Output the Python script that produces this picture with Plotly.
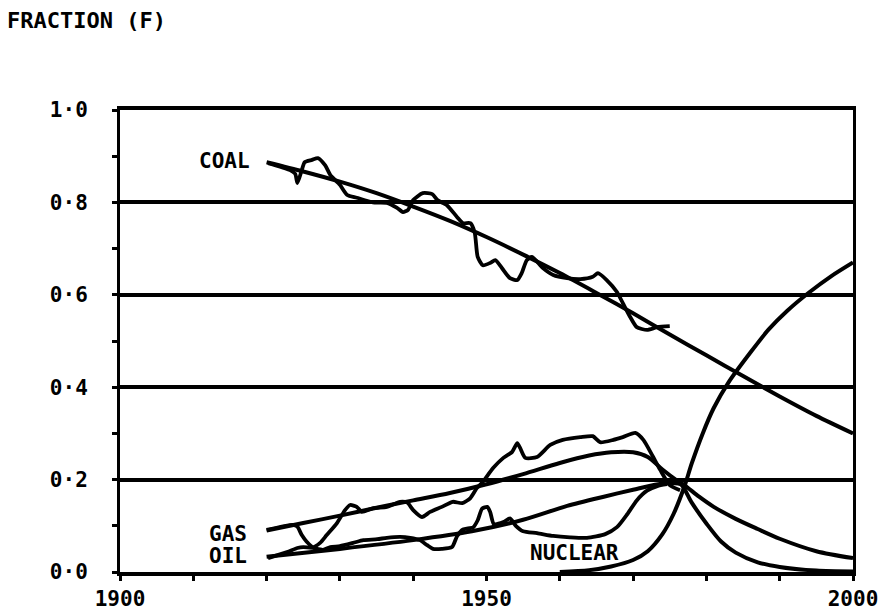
import plotly.graph_objects as go

# ---- fitted substitution curves (fraction of primary energy) ----
coal_fit_years = [1920, 1925, 1930, 1935, 1940, 1945, 1950, 1955, 1960, 1965,
                  1970, 1975, 1980, 1985, 1990, 1995, 2000]
coal_fit = [0.887, 0.867, 0.845, 0.820, 0.791, 0.760, 0.725, 0.687, 0.647, 0.604,
            0.560, 0.514, 0.469, 0.424, 0.380, 0.338, 0.300]

gas_fit_years = [1920, 1925, 1930, 1935, 1940, 1945, 1950, 1955, 1960, 1964, 1967,
                 1970, 1972, 1974, 1976, 1977, 1979, 1981, 1984, 1987, 1990, 1995, 2000]
gas_fit = [0.090, 0.106, 0.122, 0.139, 0.155, 0.171, 0.190, 0.212, 0.236, 0.252, 0.259,
           0.259, 0.249, 0.222, 0.198, 0.188, 0.163, 0.141, 0.115, 0.093, 0.072, 0.045, 0.030]

oil_fit_years = [1920, 1930, 1940, 1948, 1955, 1961, 1966, 1970, 1973, 1975, 1976.5,
                 1978, 1980, 1982, 1984, 1987, 1990, 1995, 2000]
oil_fit = [0.033, 0.050, 0.069, 0.088, 0.113, 0.143, 0.163, 0.178, 0.189, 0.192, 0.190,
           0.150, 0.105, 0.066, 0.042, 0.021, 0.011, 0.003, 0.001]

nuclear_years = [1960, 1964, 1967, 1970, 1972, 1974, 1975.5, 1977, 1978, 1979.5, 1981,
                 1983, 1986, 1988.5, 1991, 1994, 1997, 2000]
nuclear_fit = [0.000, 0.004, 0.012, 0.026, 0.045, 0.082, 0.125, 0.185, 0.235, 0.300, 0.355,
               0.410, 0.475, 0.525, 0.565, 0.605, 0.640, 0.670]

# ---- historical data ----
coal_years = [1920.2, 1923.2, 1923.9, 1924.2, 1924.8, 1925.2, 1926.2, 1927.0, 1928.0, 1928.7,
              1930.0, 1931.0, 1932.3, 1934.5, 1936.4, 1937.8, 1938.6, 1939.3, 1940.0, 1941.3,
              1942.6, 1943.3, 1944.6, 1946.0, 1946.8, 1947.8, 1948.4, 1948.8, 1949.5, 1950.5,
              1951.2, 1952.1, 1953.2, 1954.2, 1954.8, 1955.5, 1956.2, 1957.7, 1959.1, 1961.0,
              1962.8, 1964.5, 1965.2, 1966.4, 1967.8, 1968.6, 1969.6, 1970.5, 1971.9, 1973.3,
              1975.0]
coal_data = [0.885, 0.870, 0.862, 0.842, 0.870, 0.887, 0.892, 0.896, 0.880, 0.859,
             0.838, 0.816, 0.810, 0.800, 0.799, 0.788, 0.779, 0.784, 0.805, 0.820,
             0.818, 0.805, 0.794, 0.768, 0.755, 0.755, 0.734, 0.682, 0.664, 0.669,
             0.675, 0.658, 0.636, 0.632, 0.647, 0.675, 0.682, 0.658, 0.643, 0.636,
             0.634, 0.639, 0.647, 0.632, 0.606, 0.582, 0.552, 0.530, 0.524, 0.530,
             0.532]

gas_years = [1920.0, 1923.6, 1924.2, 1924.8, 1925.5, 1926.3, 1927.3, 1928.2, 1929.6, 1930.7,
             1931.4, 1932.3, 1933.0, 1934.5, 1936.4, 1938.2, 1939.2, 1940.0, 1941.2, 1942.3,
             1943.9, 1945.4, 1946.7, 1947.8, 1948.7, 1949.5, 1950.9, 1952.3, 1953.5, 1954.2,
             1954.6, 1955.3, 1956.9, 1958.7, 1960.4, 1962.8, 1964.5, 1965.5, 1967.3, 1968.6,
             1970.3, 1971.4, 1972.6, 1973.7, 1975.0, 1976.4]
gas_data = [0.091, 0.102, 0.098, 0.080, 0.065, 0.054, 0.063, 0.080, 0.106, 0.134,
            0.145, 0.141, 0.130, 0.138, 0.141, 0.152, 0.150, 0.134, 0.119, 0.130,
            0.141, 0.152, 0.149, 0.160, 0.182, 0.195, 0.225, 0.247, 0.260, 0.279,
            0.268, 0.247, 0.249, 0.275, 0.286, 0.292, 0.294, 0.281, 0.286, 0.292,
            0.301, 0.286, 0.253, 0.221, 0.188, 0.177]

oil_years = [1920.2, 1922.8, 1924.2, 1925.0, 1926.3, 1927.7, 1928.7, 1930.0, 1931.8, 1933.2,
             1935.1, 1936.4, 1938.2, 1939.6, 1940.9, 1941.9, 1942.7, 1943.9, 1945.3, 1946.0,
             1946.8, 1948.2, 1948.8, 1949.4, 1950.1, 1950.5, 1951.0, 1952.3, 1953.2, 1954.0,
             1955.0, 1956.9, 1959.1, 1961.4, 1963.7, 1966.2, 1967.8, 1969.2, 1970.5, 1971.9,
             1973.3, 1974.6]
oil_data = [0.030, 0.043, 0.052, 0.054, 0.052, 0.048, 0.054, 0.056, 0.063, 0.069,
            0.071, 0.074, 0.076, 0.074, 0.069, 0.058, 0.050, 0.050, 0.054, 0.078,
            0.092, 0.097, 0.112, 0.137, 0.141, 0.130, 0.104, 0.108, 0.116, 0.100,
            0.088, 0.084, 0.078, 0.075, 0.074, 0.082, 0.097, 0.125, 0.155, 0.176,
            0.186, 0.190]

# ---- axis ticks ----
y_major = [0.0, 0.2, 0.4, 0.6, 0.8, 1.0]
y_labels = ["0·0", "0·2", "0·4", "0·6", "0·8", "1·0"]
x_major = [1900, 1950, 2000]
x_labels = ["1900", "1950", "2000"]

FONT = "DejaVu Sans Mono"
INK = "black"
LABEL_FONT = dict(family=FONT, size=21, color=INK, weight="bold")

fig = go.Figure()

for xs, ys in [(coal_fit_years, coal_fit), (gas_fit_years, gas_fit),
               (oil_fit_years, oil_fit), (nuclear_years, nuclear_fit)]:
    fig.add_trace(go.Scatter(x=xs, y=ys, mode="lines",
                             line=dict(color=INK, width=4, shape="spline", smoothing=0.8),
                             hoverinfo="skip", showlegend=False))

for xs, ys in [(coal_years, coal_data), (gas_years, gas_data), (oil_years, oil_data)]:
    fig.add_trace(go.Scatter(x=xs, y=ys, mode="lines",
                             line=dict(color=INK, width=3.8, shape="spline", smoothing=0.6),
                             hoverinfo="skip", showlegend=False))

labels = [("COAL", 1914.2, 0.89), ("GAS", 1914.7, 0.082),
          ("OIL", 1914.7, 0.035), ("NUCLEAR", 1962.0, 0.041)]
for txt, lx, ly in labels:
    fig.add_annotation(x=lx, y=ly, text=txt, showarrow=False,
                       xanchor="center", yanchor="middle", font=LABEL_FONT)

fig.update_layout(
    width=882, height=612,
    margin=dict(l=120, r=29, t=110, b=40, autoexpand=False),
    paper_bgcolor="white", plot_bgcolor="white",
    title=dict(text="FRACTION (F)", x=7 / 882, xanchor="left",
               y=1 - 20 / 612, yanchor="middle",
               font=dict(family=FONT, size=22, color=INK, weight="bold")),
    xaxis=dict(range=[1900, 2000], showgrid=False, zeroline=False, automargin=False,
               showline=True, linewidth=4, linecolor=INK, mirror=True,
               tickvals=x_major, ticktext=x_labels,
               ticks="outside", ticklen=5, tickwidth=3, tickcolor=INK,
               ticklabelstandoff=0,
               minor=dict(dtick=10, tick0=1900, ticks="outside", ticklen=5,
                          tickwidth=3, tickcolor=INK, showgrid=False),
               tickfont=LABEL_FONT),
    yaxis=dict(range=[0, 1], showgrid=True, gridcolor=INK, gridwidth=4,
               zeroline=False, automargin=False,
               showline=True, linewidth=3, linecolor=INK, mirror=True,
               tickvals=y_major, ticktext=y_labels,
               ticks="outside", ticklen=5, tickwidth=3, tickcolor=INK,
               ticklabelstandoff=20,
               minor=dict(dtick=0.1, tick0=0, ticks="outside", ticklen=5,
                          tickwidth=3, tickcolor=INK, showgrid=False),
               tickfont=LABEL_FONT),
)

fig.write_html("out.html")
